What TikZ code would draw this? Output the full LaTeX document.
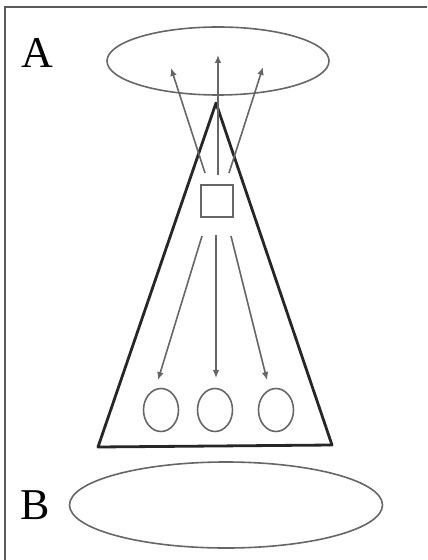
\documentclass[tikz,border=0pt]{standalone}
\usepackage{fontspec}
\setmainfont{Liberation Serif}
\usetikzlibrary{arrows.meta,shapes.geometric}

\begin{document}
\begin{tikzpicture}[x=0.5pt,y=-0.5pt,
  gline/.style={draw=gray!80!black,line width=0.8pt},
  arr/.style={gline,-{Latex[length=4pt,width=3.4pt]}},
  circ/.style={gline,ellipse,minimum width=17.5pt,minimum height=21.5pt,inner sep=0pt}]
\useasboundingbox (0,0) rectangle (427,560);
\draw[gray!70!black,line width=1pt] (5,560)--(5,7.5)--(427,7.5);
\node[font=\fontsize{22}{26}\selectfont] (labA) at (37,53) {A};
\node[font=\fontsize{22}{26}\selectfont] (labB) at (35,505) {B};
% ellipses A and B
\node[gline,ellipse,minimum width=111pt,minimum height=34pt] (ellA) at (218,61) {};
\node[gline,ellipse,minimum width=156.5pt,minimum height=43pt] (ellB) at (226,505) {};
% cone
\coordinate (apex) at (216,103);
\coordinate (bl) at (98,447);
\coordinate (br) at (332,445);
\draw[black!85,line width=1.4pt,line join=round] (apex)--(bl)--(br)--cycle;
\node[gline,minimum size=16pt,inner sep=0pt] (sq) at (217,201) {};
\foreach \i/\x in {1/161,2/215,3/276}{
  \node[circ] (c\i) at (\x,410) {};
}
% arrows up
\coordinate (s1) at (205,173); \coordinate (t1) at (171,68);
\coordinate (s2) at (218,175); \coordinate (t2) at (218,55);
\coordinate (s3) at (229,173); \coordinate (t3) at (263,67);
% arrows down
\coordinate (d1) at (202,236); \coordinate (e1) at (158,380);
\coordinate (d2) at (216,235); \coordinate (e2) at (216,378);
\coordinate (d3) at (231,236); \coordinate (e3) at (267,380);
\foreach \i in {1,2,3}{
  \draw[arr] (s\i)--(t\i);
  \draw[arr] (d\i)--(e\i);
}
\end{tikzpicture}
\end{document}
